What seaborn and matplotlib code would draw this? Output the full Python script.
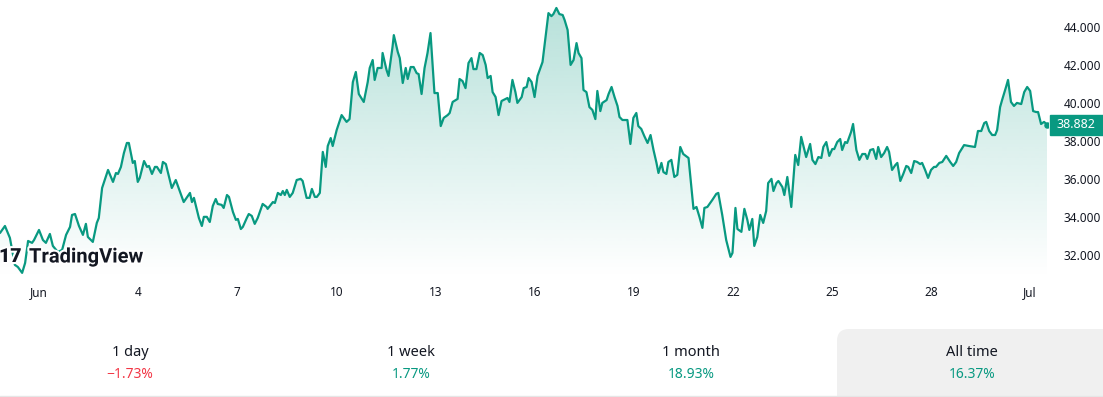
import numpy as np
import matplotlib
matplotlib.use("Agg")
import matplotlib.pyplot as plt
import matplotlib.patheffects as pe
from matplotlib import transforms
from matplotlib.colors import to_rgb
from matplotlib.lines import Line2D
from matplotlib.patches import FancyBboxPatch, Rectangle
import seaborn as sns

# time in days since Jun 1 00:00, price
days = [
    -1.18, -1.03, -0.88, -0.73, -0.64, -0.51, -0.42, -0.33, -0.21, -0.15,
    0.00, 0.12, 0.21, 0.33, 0.42, 0.57, 0.70, 0.82, 0.94, 1.00,
    1.09, 1.21, 1.33, 1.42, 1.48, 1.63, 1.75, 1.81, 1.91, 2.09,
    2.24, 2.33, 2.39, 2.48, 2.57, 2.66, 2.72, 2.84, 2.90, 2.99,
    3.05, 3.18, 3.27, 3.33, 3.42, 3.51, 3.57, 3.69, 3.75, 3.84,
    4.02, 4.14, 4.38, 4.57, 4.63, 4.69, 4.84, 4.93, 4.99, 5.08,
    5.17, 5.26, 5.35, 5.41, 5.53, 5.59, 5.69, 5.75, 5.87, 5.96,
    6.02, 6.11, 6.17, 6.29, 6.35, 6.44, 6.53, 6.62, 6.77, 6.89,
    6.92, 7.08, 7.14, 7.23, 7.32, 7.38, 7.44, 7.50, 7.59, 7.68,
    7.80, 7.92, 7.98, 8.10, 8.19, 8.26, 8.35, 8.41, 8.50, 8.59,
    8.68, 8.74, 8.83, 8.89, 9.01, 9.16, 9.31, 9.40, 9.50, 9.59,
    9.68, 9.83, 9.95, 10.01, 10.10, 10.16, 10.25, 10.37, 10.40, 10.52,
    10.58, 10.70, 10.74, 10.86, 10.92, 11.01, 11.10, 11.16, 11.25, 11.34,
    11.43, 11.49, 11.58, 11.67, 11.76, 11.85, 11.97, 12.07, 12.16, 12.25,
    12.37, 12.43, 12.52, 12.67, 12.73, 12.82, 12.91, 13.00, 13.09, 13.15,
    13.24, 13.34, 13.43, 13.52, 13.58, 13.67, 13.73, 13.82, 13.91, 14.00,
    14.18, 14.24, 14.33, 14.42, 14.48, 14.61, 14.67, 14.76, 14.82, 14.91,
    15.00, 15.09, 15.24, 15.42, 15.51, 15.57, 15.66, 15.75, 15.85, 15.91,
    16.00, 16.09, 16.18, 16.27, 16.33, 16.42, 16.48, 16.57, 16.66, 16.75,
    16.84, 16.90, 16.99, 17.05, 17.18, 17.24, 17.33, 17.42, 17.51, 17.57,
    17.66, 17.81, 17.90, 17.99, 18.08, 18.14, 18.23, 18.32, 18.42, 18.51,
    18.60, 18.69, 18.75, 18.84, 18.90, 18.99, 19.05, 19.14, 19.23, 19.32,
    19.41, 19.50, 19.66, 19.81, 19.90, 19.99, 20.08, 20.14, 20.23, 20.38,
    20.50, 20.56, 20.68, 20.80, 20.93, 20.99, 21.08, 21.14, 21.26, 21.35,
    21.44, 21.50, 21.59, 21.65, 21.74, 21.83, 21.92, 22.01, 22.07, 22.17,
    22.23, 22.32, 22.38, 22.50, 22.56, 22.65, 22.77, 22.89, 22.98, 23.07,
    23.22, 23.34, 23.41, 23.50, 23.59, 23.68, 23.74, 23.83, 23.92, 24.01,
    24.07, 24.16, 24.25, 24.31, 24.40, 24.46, 24.58, 24.64, 24.74, 24.83,
    24.92, 25.01, 25.07, 25.16, 25.25, 25.34, 25.40, 25.49, 25.58, 25.67,
    25.73, 25.82, 25.92, 25.98, 26.07, 26.16, 26.25, 26.31, 26.40, 26.49,
    26.58, 26.67, 26.73, 26.82, 26.91, 27.00, 27.09, 27.15, 27.25, 27.34,
    27.46, 27.58, 27.67, 27.76, 27.85, 28.00, 28.15, 28.33, 28.42, 28.52,
    28.61, 28.67, 28.76, 28.85, 28.94, 29.00, 29.09, 29.15, 29.27, 29.33,
    29.42, 29.51, 29.60, 29.73, 29.82, 29.91, 30.00, 30.09, 30.18, 30.24,
    30.33, 30.42, 30.51,
]
prices = [
    33.17, 33.54, 32.91, 31.49, 31.38, 31.07, 31.59, 32.75, 32.65, 32.80,
    33.33, 32.80, 32.65, 33.12, 32.49, 32.17, 32.28, 33.07, 33.49, 34.12,
    34.17, 33.54, 33.07, 33.65, 32.96, 32.70, 33.70, 33.96, 35.54, 36.49,
    35.86, 36.33, 36.28, 36.65, 37.38, 37.91, 37.91, 36.86, 36.96, 35.86,
    36.07, 36.96, 36.65, 36.70, 36.28, 36.65, 36.65, 36.33, 36.91, 36.80,
    35.54, 35.96, 34.80, 35.28, 34.80, 35.02, 33.96, 33.54, 34.02, 34.02,
    33.75, 34.59, 34.96, 34.70, 34.65, 34.49, 35.17, 35.07, 34.28, 33.86,
    33.91, 33.38, 33.49, 33.96, 34.17, 34.07, 33.65, 33.96, 34.70, 34.54,
    34.44, 34.80, 34.75, 35.28, 35.17, 35.38, 35.17, 35.44, 35.07, 35.28,
    35.96, 36.02, 35.91, 35.02, 35.02, 35.49, 35.07, 35.07, 35.28, 37.44,
    36.65, 37.75, 38.17, 37.75, 38.59, 39.38, 39.02, 39.17, 41.12, 41.65,
    40.49, 40.07, 41.12, 41.86, 42.28, 41.23, 41.86, 41.86, 42.65, 41.75,
    41.44, 42.96, 43.59, 42.70, 42.38, 41.07, 41.86, 41.28, 41.91, 41.91,
    41.59, 41.54, 40.49, 41.86, 42.65, 43.70, 40.54, 40.54, 38.80, 39.23,
    39.38, 39.49, 40.07, 40.23, 41.28, 41.17, 40.80, 42.12, 42.38, 41.80,
    41.80, 42.65, 42.54, 42.02, 41.33, 41.44, 40.59, 40.33, 39.38, 40.12,
    40.28, 40.07, 41.23, 40.59, 40.02, 40.33, 40.80, 40.86, 41.33, 41.12,
    40.33, 41.44, 42.17, 44.75, 44.59, 44.70, 45.02, 44.70, 44.65, 44.38,
    43.86, 42.02, 42.28, 43.17, 42.65, 42.38, 40.70, 40.59, 39.80, 39.65,
    39.17, 40.65, 39.59, 40.02, 40.17, 40.49, 40.86, 40.33, 39.86, 39.28,
    39.12, 39.12, 37.86, 39.23, 39.49, 38.80, 38.65, 38.28, 37.91, 38.33,
    37.54, 36.86, 36.33, 36.86, 36.38, 36.28, 36.91, 37.02, 36.12, 36.23,
    37.70, 37.33, 37.12, 34.44, 34.54, 34.02, 33.44, 34.49, 34.54, 34.91,
    35.23, 35.28, 34.12, 32.80, 31.91, 32.12, 34.49, 33.38, 33.23, 34.44,
    33.86, 33.33, 33.91, 32.49, 32.96, 34.12, 33.70, 34.33, 35.80, 36.02,
    35.38, 35.80, 35.91, 35.59, 35.17, 36.12, 34.54, 37.28, 36.75, 38.23,
    37.17, 37.86, 37.02, 36.80, 37.17, 37.12, 37.70, 37.96, 37.23, 37.59,
    37.59, 37.96, 38.12, 37.54, 37.96, 37.91, 38.49, 38.91, 37.54, 37.02,
    37.33, 37.33, 37.07, 37.54, 37.59, 37.07, 37.70, 37.17, 37.38, 37.70,
    37.44, 36.49, 36.75, 36.86, 35.91, 36.28, 36.70, 36.65, 36.33, 36.96,
    36.91, 36.80, 36.86, 36.49, 36.07, 36.49, 36.65, 36.65, 36.86, 36.91,
    37.23, 36.91, 36.70, 36.91, 37.38, 37.80, 37.75, 37.70, 38.54, 38.54,
    38.96, 39.02, 38.54, 38.33, 38.33, 38.59, 39.80, 40.17, 40.86, 41.23,
    40.07, 39.86, 40.02, 39.96, 40.59, 40.86, 40.65, 39.59, 39.54, 39.54,
    38.91, 39.02, 38.882,
]
assert len(days) == len(prices)

tick_days = [0, 3, 6, 9, 12, 15, 18, 21, 24, 27, 30]
tick_labels = ["Jun", "4", "7", "10", "13", "16", "19", "22", "25", "28", "Jul"]
price_ticks = [32, 34, 36, 38, 40, 42, 44]

periods = ["1 day", "1 week", "1 month", "All time"]
changes = [-1.73, 1.77, 18.93, 16.37]

GREEN = "#089981"
RED = "#f23645"
TEXT = "#131722"

sns.set_theme(style="white")
plt.rcParams["font.family"] = ["Noto Sans", "DejaVu Sans"]

W, H = 1103, 397
fig = plt.figure(figsize=(W / 100, H / 100), dpi=100, facecolor="white")
ax = fig.add_axes([0, 1 - 278 / H, 1048 / W, 278 / H])

x0, x1 = -1.18, 30.54
y0, y1 = 30.80, 45.44

sns.lineplot(x=days, y=prices, ax=ax, color=GREEN, linewidth=1.6, zorder=3)

# gradient area under the line
grad = np.zeros((256, 1, 4))
grad[..., :3] = to_rgb(GREEN)
grad[:, 0, 3] = np.linspace(0.30, 0.0, 256)
im = ax.imshow(grad, aspect="auto", extent=[x0, x1, y0, y1], origin="upper",
               interpolation="bilinear", zorder=1)
area = ax.fill_between(days, prices, y0, color="none", linewidth=0)
im.set_clip_path(area.get_paths()[0], ax.transData)

ax.scatter([days[-1]], [prices[-1]], s=22, color=GREEN, zorder=4, linewidths=0)

ax.set_xlim(x0, x1)
ax.set_ylim(y0, y1)
for s in ax.spines.values():
    s.set_visible(False)
ax.set_xlabel("")
ax.set_ylabel("")

ax.set_xticks(tick_days, tick_labels)
ax.yaxis.tick_right()
ax.set_yticks(price_ticks, [f"{v:.3f}" for v in price_ticks])
ax.tick_params(axis="x", length=0, pad=6, labelsize=8.5, labelcolor=TEXT)
ax.tick_params(axis="y", length=0, pad=11, labelsize=8.5, labelcolor=TEXT)

# last price tag on the right scale
trans = transforms.blended_transform_factory(ax.transAxes, ax.transData)
tag_h = 20 / 19
ax.add_patch(Rectangle((1.002, prices[-1] - tag_h / 2), 0.06, tag_h,
                       transform=trans, color=GREEN, clip_on=False, zorder=5))
ax.text(1.027, prices[-1], f"{prices[-1]:.3f}", transform=trans, ha="center",
        va="center", color="white", fontsize=9, fontweight="medium", zorder=6)

# watermark
halo = [pe.withStroke(linewidth=3, foreground="white")]
fig.text(-1 / W, 1 - 257 / H, "17", ha="left", va="center", fontsize=14,
         fontweight="black", family=["Roboto", "DejaVu Sans"], color=TEXT,
         path_effects=halo, zorder=5)
fig.text(29 / W, 1 - 257 / H, "TradingView", ha="left", va="center",
         fontsize=14.5, fontweight="bold", family=["Roboto", "DejaVu Sans"],
         color=TEXT, path_effects=halo, zorder=5)

# bottom performance strip
fig.add_artist(FancyBboxPatch((837, -12), 300, 80,
                              boxstyle="round,pad=0,rounding_size=12",
                              transform=None, facecolor="#f0f0f0",
                              edgecolor="none", zorder=0))
fig.add_artist(Line2D([0, 1], [0.8 / H, 0.8 / H], transform=fig.transFigure,
                      color="#e6e6e6", linewidth=1))

centers = [130, 411, 691, 972]
for cx, period, chg in zip(centers, periods, changes):
    fig.text(cx / W, 1 - 352 / H, period, ha="center", va="center",
             fontsize=10.5, color=TEXT)
    txt = f"\u2212{abs(chg):.2f}%" if chg < 0 else f"{chg:.2f}%"
    fig.text(cx / W, 1 - 375 / H, txt, ha="center", va="center",
             fontsize=10, color=RED if chg < 0 else GREEN)

fig.savefig("out.png", dpi=100, facecolor="white")
